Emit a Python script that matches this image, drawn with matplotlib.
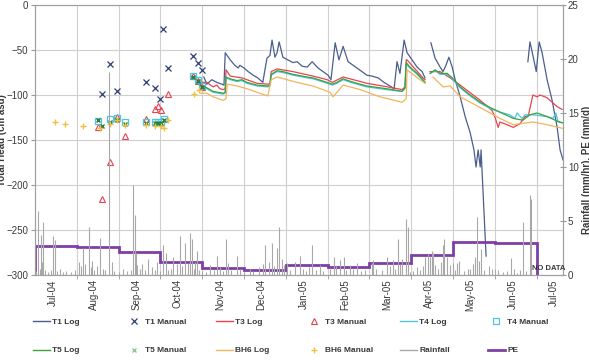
import matplotlib
matplotlib.use('Agg')
import matplotlib.pyplot as plt
import numpy as np
from matplotlib.lines import Line2D

plt.rcParams['font.family'] = ['Liberation Sans', 'DejaVu Sans']

nan = np.nan
# x positions are in month units: 0 = start of Jul-04, 12 = start of Jul-05
month_labels = ["Jul-04", "Aug-04", "Sep-04", "Oct-04", "Nov-04", "Dec-04", "Jan-05",
                "Feb-05", "Mar-05", "Apr-05", "May-05", "Jun-05", "Jul-05"]

# ---------------- logger series (Total Head, cm asd) ----------------
t1_x = [4.04, 4.11, 4.23, 4.35, 4.47, 4.52, 4.55, 4.67, 4.78, 4.86, 4.90, 5.00, 5.10, 5.22, 5.33,
        5.45, 5.50, 5.55, 5.62, 5.67, 5.74, 5.79, 5.84, 5.93, 6.05, 6.17, 6.27, 6.39, 6.51, 6.63,
        6.77, 6.89, 7.01, 7.08, 7.18, 7.27, 7.37, 7.49, 7.61, 7.70, 7.82, 7.94, 8.06, 8.21, 8.35,
        8.49, 8.59, 8.66, 8.73, 8.83, 8.90, 9.02, 9.14, 9.26, 9.33, 9.40,
        9.47, 9.57, 9.69, 9.76, 9.83, 9.90, 9.98, 10.05, 10.17, 10.29, 10.41, 10.50, 10.55, 10.60,
        10.65, 10.67, 10.79, 11.5,
        11.79, 11.84, 11.91, 11.99, 12.06, 12.13, 12.25, 12.37, 12.49, 12.56, 12.63]
t1_y = [-80, -88, -83, -86, -88, -89, -53, -61, -67, -70, -67, -70, -74, -78, -81,
        -86, -72, -59, -56, -39, -58, -53, -41, -58, -61, -64, -63, -68, -69, -63,
        -70, -74, -78, -83, -42, -61, -46, -63, -67, -70, -74, -78, -79, -81, -86,
        -90, -93, -63, -76, -39, -53, -61, -69, -74, -81, nan,
        -42, -59, -69, -74, -67, -58, -69, -83, -102, -124, -142, -161, -180, -161,
        -180, -161, -279, nan,
        -63, -41, -56, -74, -41, -53, -83, -106, -136, -161, -172]

t3_x = [3.95, 4.11, 4.26, 4.35, 4.42, 4.50, 4.55, 4.57, 4.67, 4.95, 5.31, 5.57, 5.62, 5.65, 5.79,
        6.17, 6.65, 6.99, 7.11, 7.37, 7.94, 8.56, 8.78, 8.85, 8.88, 8.90, 9.28, 9.33, 9.40,
        9.45, 9.69, 9.93, 10.17, 10.65, 10.93, 11.00, 11.08, 11.12, 11.29, 11.44, 11.60,
        11.72, 11.80, 11.91, 12.01, 12.08, 12.25, 12.49, 12.61]
t3_y = [-86, -86, -91, -89, -93, -94, -93, -72, -79, -81, -87, -88, -87, -74, -71,
        -74, -79, -83, -86, -80, -87, -92, -94, -91, -61, -61, -81, -83, nan,
        -74, -74, -81, -89, -106, -117, -124, -136, -130, -133, -136, -132,
        -124, -123, -100, -102, -100, -103, -113, -116]

t4_x = [3.95, 4.11, 4.26, 4.38, 4.50, 4.55, 4.57, 4.67, 4.83, 4.95, 5.07, 5.31, 5.57, 5.62, 5.65,
        5.79, 5.93, 6.17, 6.51, 6.65, 6.99, 7.11, 7.22, 7.37, 7.49, 7.70, 7.94, 8.25, 8.56, 8.78,
        8.85, 8.88, 8.97, 9.14, 9.28, 9.33, 9.40,
        9.45, 9.57, 9.69, 9.86, 9.98, 10.17, 10.41, 10.65, 10.89, 11.12, 11.36, 11.48, 11.53,
        11.65, 11.72, 11.91, 12.25, 12.39, 12.46, 12.51, 12.61]
t4_y = [-90, -93, -97, -98, -99, -98, -81, -83, -85, -84, -87, -90, -91, -90, -78,
        -74, -75, -78, -81, -82, -87, -89, -87, -83, -85, -88, -91, -93, -95, -96,
        -93, -66, -70, -77, -84, -86, nan,
        -76, -73, -77, -77, -82, -92, -101, -109, -115, -119, -122, -126, -120,
        -126, -122, -122, -124, -126, -120, -130, -131]

t5_x = [3.95, 4.11, 4.26, 4.38, 4.50, 4.55, 4.57, 4.67, 4.83, 4.95, 5.07, 5.31, 5.57, 5.62, 5.65,
        5.79, 5.93, 6.17, 6.51, 6.65, 6.99, 7.11, 7.22, 7.37, 7.49, 7.70, 7.94, 8.25, 8.56, 8.78,
        8.85, 8.88, 8.97, 9.14, 9.28, 9.33, 9.40,
        9.45, 9.57, 9.69, 9.86, 9.98, 10.17, 10.41, 10.65, 10.89, 11.12, 11.44, 11.67, 11.84,
        12.01, 12.25, 12.49, 12.63]
t5_y = [-89, -92, -96, -97, -98, -97, -80, -82, -84, -83, -86, -89, -90, -89, -77,
        -73, -74, -77, -80, -81, -86, -88, -86, -82, -84, -87, -90, -92, -94, -96,
        -92, -64, -69, -76, -83, -86, nan,
        -76, -72, -76, -76, -81, -91, -100, -108, -114, -119, -126, -128, -122,
        -120, -124, -129, -131]

bh6_x = [3.95, 4.11, 4.26, 4.50, 4.57, 4.60, 4.83, 5.07, 5.31, 5.57, 5.65, 5.79, 6.27, 6.65,
         7.06, 7.13, 7.37, 7.78, 8.25, 8.78, 8.88, 8.90, 9.21, 9.33, 9.40,
         9.52, 9.76, 9.93, 10.17, 10.65, 11.12, 11.44, 11.91, 12.25, 12.61]
bh6_y = [-98, -98, -102, -106, -104, -88, -90, -93, -97, -101, -83, -80, -86, -90,
         -97, -102, -89, -94, -102, -108, -104, -72, -83, -87, nan,
         -80, -91, -90, -102, -114, -126, -133, -130, -133, -137]

# ---------------- manual dips ----------------
t1m_x = [1.60, 1.79, 1.97, 2.65, 2.88, 2.99, 3.07, 3.17, 3.79, 3.89, 3.99]
t1m_y = [-99, -66, -96, -85, -92, -104, -27, -70, -57, -64, -72]
t3m_x = [1.51, 1.60, 1.79, 1.96, 2.15, 2.66, 2.87, 2.94, 3.01, 3.18, 3.78, 3.90, 4.00]
t3m_y = [-135, -216, -174, -124, -146, -127, -116, -112, -117, -99, -79, -84, -91]
t4m_x = [1.51, 1.79, 1.96, 2.15, 2.66, 2.87, 2.94, 3.01, 3.09, 3.78, 3.90, 4.00]
t4m_y = [-129, -127, -126, -130, -130, -130, -130, -130, -127, -79, -83, -90]
t5m_x = [1.51, 1.60, 1.79, 1.96, 2.15, 2.66, 2.87, 2.94, 3.01, 3.09, 3.78, 3.90, 4.00]
t5m_y = [-128, -134, -130, -128, -132, -131, -131, -131, -131, -128, -80, -84, -91]
bh6m_x = [0.48, 0.72, 1.15, 1.55, 1.79, 1.96, 2.15, 2.66, 2.87, 3.01, 3.09, 3.18, 3.80, 3.92]
bh6m_y = [-130, -132, -134, -137, -132, -128, -133, -133, -134, -134, -137, -128, -99, -94]

# ---------------- rainfall (mm/hr) ----------------
rain_x = [0.03, 0.08, 0.11, 0.14, 0.17, 0.20, 0.25, 0.31, 0.38, 0.43, 0.48, 0.52, 0.60, 0.66,
          0.74, 0.85, 0.95, 1.05, 1.10, 1.14, 1.20, 1.28, 1.33, 1.36, 1.42, 1.48, 1.56, 1.62,
          1.68, 1.77, 1.83, 1.90, 2.00, 2.11, 2.20, 2.30, 2.35, 2.39, 2.42, 2.45, 2.50, 2.55,
          2.62, 2.71, 2.80, 2.86, 2.91, 3.00, 3.07, 3.13, 3.18, 3.25, 3.31, 3.40, 3.47, 3.52,
          3.59, 3.65, 3.71, 3.76, 3.80, 3.83, 3.87, 3.92, 4.00, 4.08, 4.19, 4.28, 4.35, 4.42,
          4.50, 4.57, 4.62, 4.70, 4.83, 4.90, 5.00, 5.14, 5.22, 5.35, 5.45, 5.50, 5.60, 5.67,
          5.72, 5.79, 5.84, 5.91, 5.95, 6.03, 6.10, 6.22, 6.34, 6.40, 6.48, 6.55, 6.63, 6.72,
          6.82, 6.90, 7.05, 7.15, 7.20, 7.30, 7.39, 7.45, 7.54, 7.60, 7.70, 7.80, 7.90, 8.06,
          8.09, 8.15, 8.30, 8.42, 8.48, 8.56, 8.62, 8.68, 8.72, 8.78, 8.88, 8.92, 8.97, 9.05,
          9.14, 9.20, 9.28, 9.33, 9.40, 9.45, 9.50, 9.52, 9.58, 9.65, 9.70, 9.76, 9.78, 9.86,
          9.92, 10.00, 10.05, 10.10, 10.14, 10.25, 10.35, 10.41, 10.47, 10.53, 10.57, 10.62,
          10.67, 10.75, 10.85, 10.93, 11.00, 11.08, 11.20, 11.30, 11.39, 11.45, 11.53, 11.60,
          11.67, 11.75, 11.84, 11.87]
rain_v = [0.4, 5.9, 0.6, 3.7, 1.2, 4.9, 0.5, 0.3, 0.5, 3.6, 3.2, 0.4, 0.6, 0.3,
          0.4, 0.3, 0.5, 1.2, 0.8, 2.5, 1.0, 4.4, 0.7, 1.3, 0.5, 0.8, 3.4, 0.6,
          0.5, 18.8, 1.2, 0.4, 0.3, 0.6, 0.4, 0.5, 8.3, 5.6, 2.0, 0.9, 0.6, 1.0,
          0.5, 1.5, 0.7, 0.5, 1.2, 0.4, 2.8, 2.0, 0.5, 0.6, 1.7, 1.0, 3.6, 0.8,
          3.0, 1.1, 3.9, 3.3, 0.6, 1.2, 2.2, 0.5, 0.4, 0.3, 0.9, 0.5, 1.8, 0.7,
          0.4, 3.3, 1.1, 0.5, 1.8, 0.6, 0.3, 0.6, 0.4, 0.7, 1.0, 2.8, 1.2, 3.0,
          0.8, 2.5, 4.4, 1.5, 0.9, 1.1, 0.5, 1.2, 1.8, 0.6, 0.4, 0.7, 2.8, 0.5,
          0.9, 0.4, 0.6, 1.7, 0.8, 1.4, 1.7, 0.5, 0.9, 0.6, 1.1, 0.4, 0.5, 1.1,
          1.4, 0.6, 0.5, 1.7, 0.8, 1.4, 0.6, 3.3, 1.0, 1.5, 5.2, 4.4, 0.3, 0.4,
          0.7, 0.5, 0.8, 1.7, 1.9, 1.7, 2.2, 2.0, 0.9, 0.6, 1.2, 2.8, 3.3, 1.7,
          0.9, 1.1, 0.5, 1.1, 1.3, 0.4, 0.6, 0.6, 1.0, 1.7, 5.4, 1.3,
          2.4, 0.5, 0.8, 0.6, 0.6, 0.5, 0.3, 0.4, 1.6, 0.6, 0.2, 0.5,
          4.9, 0.4, 7.4, 7.0]

# ---------------- monthly PE (mm/d) ----------------
pe_month_edges = list(range(13))
pe_values = [2.71, 2.62, 2.16, 1.20, 0.62, 0.46, 0.93, 0.71, 1.12, 1.85, 3.06, 2.93]

# ---------------- colours ----------------
c_t1 = '#4A5E8E'
c_t1m = '#2E3D78'
c_t3 = '#E8434F'
c_t4 = '#4EC4E0'
c_t5 = '#3AA23E'
c_bh6 = '#F2B45C'
c_bh6m = '#F0C040'
c_rain = '#A8A8A8'
c_pe = '#7E3EA6'
txt = '#3A3A3A'

fig = plt.figure(figsize=(5.89, 3.61), dpi=100)
ax = fig.add_axes([35 / 589, 1 - 275 / 361, (563 - 35) / 589, 270 / 361])
ax2 = ax.twinx()

ax.set_xlim(0, 12.63)
ax.set_ylim(-300, 0)
ax2.set_ylim(0, 25)

ax.set_axisbelow(True)
ax.set_yticks(np.arange(-300, 1, 50))
ax.set_xticks(np.arange(13) + 0.42)
ax.set_xticklabels(month_labels, rotation=90, fontsize=7, color=txt)
ax.set_xticks(np.arange(1, 13), minor=True)
ax.tick_params(axis='x', which='major', length=0, pad=3)
ax.tick_params(axis='x', which='minor', length=3, color='#999999', direction='out')
ax.tick_params(axis='y', labelsize=7, labelcolor=txt, length=3, color='#999999', pad=2)
ax.grid(axis='y', which='major', color='#CFCFCF', lw=0.8)
ax.grid(axis='x', which='minor', color='#CFCFCF', lw=0.8)
ax2.set_yticks(np.arange(0, 26, 5))
ax2.tick_params(axis='y', labelsize=7, labelcolor=txt, length=4, color='#999999',
                direction='inout', pad=1.5)

for a in (ax, ax2):
    for s in a.spines.values():
        s.set_color('#A0A0A0')
        s.set_linewidth(0.8)

# lines on primary axis
ax.plot(t1_x, t1_y, color=c_t1, lw=0.9)
ax.plot(t1m_x, t1m_y, ls='none', marker='x', ms=4, mew=0.9, color=c_t1m)
ax.plot(t3_x, t3_y, color=c_t3, lw=0.9)
ax.plot(t3m_x, t3m_y, ls='none', marker='^', ms=4.5, mew=0.8, mfc='none', color=c_t3)
ax.plot(t4_x, t4_y, color=c_t4, lw=0.9)
ax.plot(t4m_x, t4m_y, ls='none', marker='s', ms=4.5, mew=0.9, mfc='none', color=c_t4)
ax.plot(t5_x, t5_y, color=c_t5, lw=0.9)
ax.plot(t5m_x, t5m_y, ls='none', marker='x', ms=3.5, mew=1.0, color='#2E7D3A')
ax.plot(bh6_x, bh6_y, color=c_bh6, lw=0.9)
ax.plot(bh6m_x, bh6m_y, ls='none', marker='+', ms=4.5, mew=1.0, color=c_bh6m)

# secondary axis
ax2.vlines(rain_x, 0, rain_v, color=c_rain, lw=0.8)
ax2.stairs(pe_values, pe_month_edges, color=c_pe, lw=2)
ax2.text(11.88, 0.25, 'NO DATA', fontsize=5.5, fontweight='bold', color=txt, va='bottom')

# axis labels
fig.text(2 / 589, 1 - 140 / 361, 'Total Head (cm asd)', rotation=90, fontsize=7,
         fontweight='bold', color=txt, ha='center', va='center')
fig.text(582 / 589, 1 - 170 / 361, 'Rainfall (mm/hr), PE (mm/d)', rotation=90, fontsize=7,
         fontweight='bold', color=txt, ha='left', va='center')

# legend, one column at a time (Excel row-major order)
h = {
    'T1 Log': Line2D([], [], color=c_t1, lw=1),
    'T1 Manual': Line2D([], [], ls='none', marker='x', ms=4, mew=0.9, color=c_t1m),
    'T3 Log': Line2D([], [], color=c_t3, lw=1),
    'T3 Manual': Line2D([], [], ls='none', marker='^', ms=4.5, mew=0.8, mfc='none', color=c_t3),
    'T4 Log': Line2D([], [], color=c_t4, lw=1),
    'T4 Manual': Line2D([], [], ls='none', marker='s', ms=4.5, mew=0.9, mfc='none', color=c_t4),
    'T5 Log': Line2D([], [], color=c_t5, lw=1),
    'T5 Manual': Line2D([], [], ls='none', marker='x', ms=3.5, mew=1.0, color='#8CCB8C'),
    'BH6 Log': Line2D([], [], color=c_bh6, lw=1),
    'BH6 Manual': Line2D([], [], ls='none', marker='+', ms=4.5, mew=1.0, color=c_bh6m),
    'Rainfall': Line2D([], [], color=c_rain, lw=1),
    'PE': Line2D([], [], color=c_pe, lw=2),
}
columns = [('T1 Log', 'T5 Log'), ('T1 Manual', 'T5 Manual'), ('T3 Log', 'BH6 Log'),
           ('T3 Manual', 'BH6 Manual'), ('T4 Log', 'Rainfall'), ('T4 Manual', 'PE')]
col_x = [33, 126, 216, 306, 400, 488]
for names, cx in zip(columns, col_x):
    leg = fig.legend([h[n] for n in names], list(names), loc='upper left',
                     bbox_to_anchor=(cx / 589, 1 - 318 / 361), frameon=False,
                     fontsize=6, handlelength=2.0, handletextpad=0.3, borderpad=0,
                     borderaxespad=0, labelspacing=2.5)
    for t in leg.get_texts():
        t.set_fontweight('bold')
        t.set_color(txt)

fig.savefig('out.png', dpi=100)
